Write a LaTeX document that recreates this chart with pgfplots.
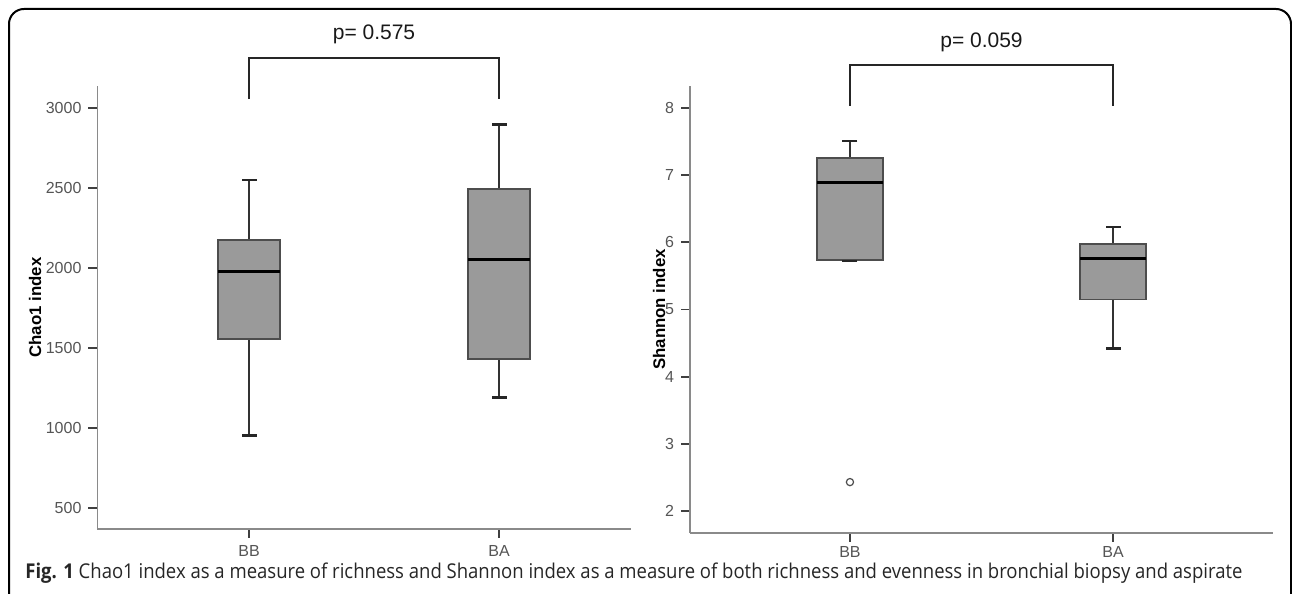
\documentclass[border=0pt]{standalone}
\usepackage{pgfplots}
\pgfplotsset{compat=1.18}
\usepgfplotslibrary{statistics}
\usepackage{fontspec}
\setmainfont{Liberation Sans}
\newfontfamily\capfont{Open Sans}
\definecolor{boxfill}{HTML}{9A9A9A}
\definecolor{boxedge}{HTML}{4D4D4D}
\definecolor{axisgray}{HTML}{8A8A8A}
\definecolor{ticklab}{HTML}{555555}
\pgfplotsset{
  mybox/.style={
    scale only axis,
    axis x line=bottom, axis y line=left,
    axis line style={-, axisgray, line width=0.9pt},
    tick style={black!75, line width=0.9pt},
    tick align=outside,
    major tick length=4.5pt,
    ticklabel style={font=\fontsize{8}{9.6}\selectfont, text=ticklab},
    /pgf/number format/assume math mode=true,
    /pgf/number format/1000 sep={},
    ylabel style={font=\bfseries\fontsize{8.4}{10}\selectfont, anchor=center},
    xtick={1,2}, xticklabels={BB,BA},
    clip=false,
    boxplot/draw direction=y,
    boxplot/every box/.style={fill=boxfill, draw=boxedge, line width=0.8pt},
    boxplot/every median/.style={black, line width=1.5pt},
    boxplot/every whisker/.style={draw=black!80, line width=0.8pt},
    boxplot/box extend=0.25,
    boxplot/whisker extend=0,
  },
  capstyle/.style={only marks, mark=-, mark size=3.75pt, mark options={line width=1.3pt, black!85}},
}
\begin{document}
\begin{tikzpicture}
\useasboundingbox (0pt,0pt) rectangle (646pt,297pt);
\begin{scope}
\clip (0pt,0pt) rectangle (646pt,297pt);
\draw[line width=1pt, rounded corners=7.5pt] (4.5pt,-10pt) -- (4.5pt,292.5pt) -- (645.5pt,292.5pt) -- (645.5pt,-10pt);
\end{scope}

% Left panel: Chao1
\begin{axis}[mybox,
  at={(48.75pt,32.5pt)}, anchor=south west,
  width=266.75pt, height=221.5pt,
  xmin=0.394, xmax=2.528,
  ymin=368.75, ymax=3137.5,
  ytick={500,1000,1500,2000,2500,3000},
  xticklabel style={yshift=-0.3pt},
  ylabel={Chao1 index},
  ylabel style={at={(axis description cs:-0.117,0.5)}},
]
\addplot[boxplot prepared={draw position=1, lower whisker=952, lower quartile=1556,
  median=1975, upper quartile=2175, upper whisker=2550}, draw=boxedge] coordinates {};
\addplot[boxplot prepared={draw position=2, lower whisker=1192, lower quartile=1431,
  median=2056, upper quartile=2494, upper whisker=2896}, draw=boxedge] coordinates {};
\addplot[capstyle] coordinates {(1,2550) (1,952) (2,2896) (2,1192)};
\addplot[black!85, line width=0.8pt] coordinates {(1,3056) (1,3312) (2,3312) (2,3056)};
\node[font=\fontsize{10.5}{12}\selectfont, text=black!90] at (axis cs:1.5,3462) {p= 0.575};
\end{axis}

% Right panel: Shannon
\begin{axis}[mybox,
  at={(345pt,30.5pt)}, anchor=south west,
  width=291.5pt, height=223.5pt,
  xmin=0.392, xmax=2.608,
  ymin=1.672, ymax=8.3275,
  ytick={2,3,4,5,6,7,8},
  xticklabel style={yshift=1.3pt},
  ylabel={Shannon index},
  ylabel style={at={(axis description cs:-0.053,0.5)}},
]
\addplot[boxplot prepared={draw position=1, lower whisker=5.72, lower quartile=5.737,
  median=6.898, upper quartile=7.256, upper whisker=7.509}, draw=boxedge] coordinates {};
\addplot[boxplot prepared={draw position=2, lower whisker=4.419, lower quartile=5.149,
  median=5.752, upper quartile=5.975, upper whisker=6.227}, draw=boxedge] coordinates {};
\addplot[capstyle] coordinates {(1,7.509) (1,5.72) (2,6.227) (2,4.419)};
\addplot[only marks, mark=o, mark size=1.8pt, mark options={draw=black!70, line width=0.6pt, fill=white}] coordinates {(1,2.43)};
\addplot[black!85, line width=0.8pt] coordinates {(1,8.03) (1,8.64) (2,8.64) (2,8.03)};
\node[font=\fontsize{10.5}{12}\selectfont, text=black!90] at (axis cs:1.5,8.97) {p= 0.059};
\end{axis}

\node[anchor=base west, inner sep=0pt, text=black!85] at (12.5pt,7.5pt)
  {\resizebox{608.5pt}{7.8pt}{\capfont\fontsize{9}{11}\selectfont\textbf{Fig. 1} Chao1 index as a measure of richness and Shannon index as a measure of both richness and evenness in bronchial biopsy and aspirate}};
\end{tikzpicture}
\end{document}
